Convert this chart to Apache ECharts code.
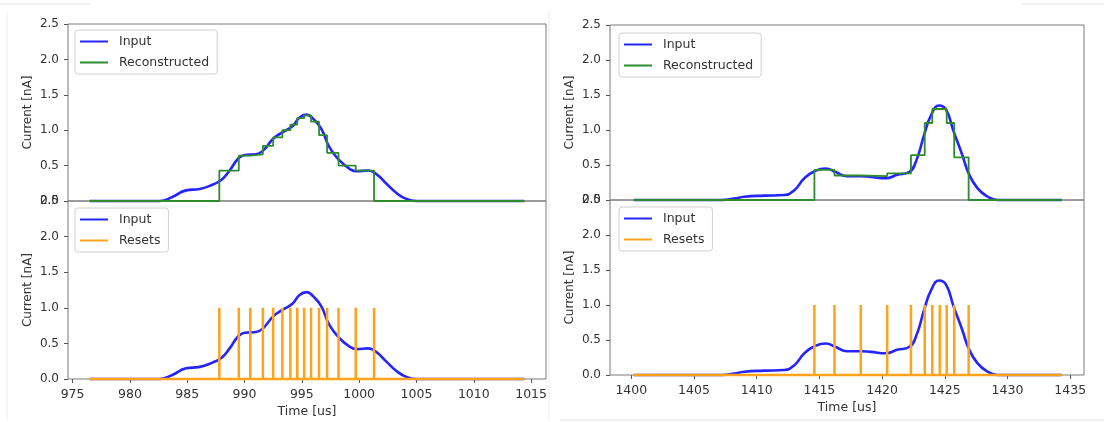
<!DOCTYPE html>
<html lang="en">
<head>
<meta charset="UTF-8">
<title>Input vs Reconstructed current</title>
<script src="https://cdn.jsdelivr.net/npm/echarts@6/dist/echarts.min.js"></script>
<style>
  html, body { margin: 0; padding: 0; background: #fff; }
  #chart { width: 1104px; height: 422px; }
</style>
</head>
<body>
<div id="chart"></div>
<script>
// left window (time in us, current in nA)
const leftInputT = [976.5, 980, 982.6, 983.7, 984.9, 986.1, 987.2, 988.0, 988.7, 989.4, 990.0, 991.0, 991.6, 992.5, 993.3, 994.2, 994.8, 995.4, 996.0, 996.7, 997.4, 998.3, 999.2, 999.8, 1000.8, 1001.5, 1002.4, 1003.2, 1004.1, 1005.0, 1010, 1014.4];
const leftInputV = [0, 0, 0, 0.056, 0.15, 0.17, 0.23, 0.30, 0.43, 0.59, 0.65, 0.66, 0.71, 0.88, 0.97, 1.06, 1.18, 1.22, 1.16, 1.02, 0.76, 0.57, 0.45, 0.42, 0.43, 0.38, 0.24, 0.12, 0.03, 0, 0, 0];
const leftResets = [987.8, 989.5, 990.5, 991.6, 992.5, 993.3, 994.0, 994.6, 995.2, 995.8, 996.5, 997.2, 998.2, 999.7, 1001.3];
const leftRecon = [0.43, 0.64, 0.66, 0.78, 0.90, 1.00, 1.08, 1.17, 1.21, 1.12, 0.93, 0.68, 0.50, 0.43, 0];

// right window
const rightInputT = [1400.2, 1405, 1407.2, 1408.2, 1409.0, 1410.6, 1412.2, 1413.0, 1413.8, 1414.6, 1415.5, 1416.3, 1417.2, 1418.3, 1419.1, 1420.3, 1421.2, 1422.15, 1422.7, 1423.35, 1423.9, 1424.55, 1425.1, 1425.7, 1426.4, 1426.9, 1427.6, 1428.4, 1429.2, 1434.3];
const rightInputV = [0, 0, 0, 0.02, 0.047, 0.062, 0.071, 0.14, 0.31, 0.41, 0.45, 0.40, 0.34, 0.34, 0.33, 0.31, 0.36, 0.40, 0.55, 0.93, 1.21, 1.35, 1.29, 0.98, 0.64, 0.38, 0.17, 0.05, 0, 0];
const rightResets = [1414.6, 1416.2, 1418.3, 1420.4, 1422.3, 1423.4, 1424.0, 1424.6, 1425.15, 1425.75, 1426.9];
const rightRecon = [0.43, 0.35, 0.34, 0.38, 0.64, 1.10, 1.30, 1.30, 1.10, 0.61, 0];

const leftXTicks = [975, 980, 985, 990, 995, 1000, 1005, 1010, 1015];
const rightXTicks = [1400, 1405, 1410, 1415, 1420, 1425, 1430, 1435];
const resetHeight = 1.0;

const BLUE = '#2424ff';
const GREEN = '#2e8b2e';
const ORANGE = '#ffa31a';
const FONT = 'DejaVu Sans';

function zip(t, v) {
    return t.map((x, i) => [x, v[i]]);
}

// piecewise constant reconstruction, value held until the next reset
function stepData(t, resets, recon) {
    const out = [[t[0], 0]];
    resets.forEach((r, i) => out.push([r, recon[i]]));
    out.push([t[t.length - 1], 0]);
    return out;
}

// zero signal with a spike up to resetHeight at every reset
function resetData(t, resets) {
    const out = [[t[0], 0]];
    resets.forEach(r => { out.push([r, 0], [r, resetHeight], [r, 0]); });
    out.push([t[t.length - 1], 0]);
    return out;
}

const grids = [
    { left: 68, top: 24, width: 478, height: 177 },
    { left: 68, top: 201, width: 478, height: 178 },
    { left: 610, top: 25, width: 474, height: 175 },
    { left: 610, top: 200, width: 474, height: 175 }
].map(g => Object.assign(g, { show: true, borderColor: '#7a7a7a', borderWidth: 1, backgroundColor: 'transparent' }));

function xAxis(idx, min, max, ticks, bottom) {
    return {
        type: 'value', gridIndex: idx, min: min, max: max,
        axisLine: { show: false },
        splitLine: { show: false },
        axisTick: { show: bottom, customValues: ticks, length: 4, lineStyle: { color: '#555' } },
        axisLabel: { show: bottom, customValues: ticks, margin: 9, color: '#333', fontSize: 12.5, fontFamily: FONT, formatter: v => String(v) },
        name: bottom ? 'Time [us]' : '',
        nameLocation: 'middle', nameGap: 26,
        nameTextStyle: { color: '#333', fontSize: 12.5, fontFamily: FONT }
    };
}

function yAxis(idx) {
    return {
        type: 'value', gridIndex: idx, min: 0, max: 2.5, interval: 0.5,
        axisLine: { show: false },
        splitLine: { show: false },
        axisTick: { show: true, length: 4, lineStyle: { color: '#555' } },
        axisLabel: { margin: 9, color: '#333', fontSize: 12, fontFamily: FONT, formatter: v => v.toFixed(1) },
        name: 'Current [nA]', nameLocation: 'middle', nameGap: 34, nameRotate: 90,
        nameTextStyle: { color: '#333', fontSize: 12, fontFamily: FONT }
    };
}

function legend(left, top, names) {
    return {
        orient: 'vertical', left: left, top: top,
        data: names,
        icon: 'rect', itemWidth: 28, itemHeight: 2, itemGap: 8,
        padding: [5, 8, 5, 5],
        backgroundColor: 'rgba(255,255,255,0.8)',
        borderColor: '#d0d0d0', borderWidth: 1, borderRadius: 3,
        textStyle: { color: '#333', fontSize: 12.5, fontFamily: FONT, padding: [0, 0, 0, 6] },
        selectedMode: false
    };
}

function line(name, idx, data, color, width, extra) {
    return Object.assign({
        type: 'line', name: name, xAxisIndex: idx, yAxisIndex: idx,
        data: data, showSymbol: false, symbol: 'none', clip: false,
        color: color, lineStyle: { color: color, width: width },
        animation: false
    }, extra || {});
}

const smooth = { smooth: 0.5 };

const option = {
    animation: false,
    grid: grids,
    xAxis: [
        xAxis(0, 974.6, 1016.3, leftXTicks, false),
        xAxis(1, 974.6, 1016.3, leftXTicks, true),
        xAxis(2, 1398.3, 1436.1, rightXTicks, false),
        xAxis(3, 1398.3, 1436.1, rightXTicks, true)
    ],
    yAxis: [yAxis(0), yAxis(1), yAxis(2), yAxis(3)],
    legend: [
        legend(75, 30, ['Input', 'Reconstructed']),
        legend(75, 208, ['Input', 'Resets']),
        legend(619, 33, ['Input', 'Reconstructed']),
        legend(619, 207, ['Input', 'Resets'])
    ],
    series: [
        line('Input', 0, zip(leftInputT, leftInputV), BLUE, 2.6, smooth),
        line('Reconstructed', 0, stepData(leftInputT, leftResets, leftRecon), GREEN, 1.8, { step: 'end' }),
        line('Input', 1, zip(leftInputT, leftInputV), BLUE, 2.6, smooth),
        line('Resets', 1, resetData(leftInputT, leftResets), ORANGE, 2.5),
        line('Input', 2, zip(rightInputT, rightInputV), BLUE, 2.6, smooth),
        line('Reconstructed', 2, stepData(rightInputT, rightResets, rightRecon), GREEN, 1.8, { step: 'end' }),
        line('Input', 3, zip(rightInputT, rightInputV), BLUE, 2.6, smooth),
        line('Resets', 3, resetData(rightInputT, rightResets), ORANGE, 2.5)
    ],
    // faint frame edges of the two pasted figures
    graphic: [
        { type: 'line', shape: { x1: 0, y1: 4, x2: 90, y2: 4 }, style: { stroke: '#e6e6e6', lineWidth: 1 } },
        { type: 'line', shape: { x1: 7, y1: 12, x2: 7, y2: 420 }, style: { stroke: '#ececec', lineWidth: 1 } },
        { type: 'line', shape: { x1: 549, y1: 10, x2: 549, y2: 420 }, style: { stroke: '#ececec', lineWidth: 1 } },
        { type: 'line', shape: { x1: 1022, y1: 4, x2: 1104, y2: 4 }, style: { stroke: '#e6e6e6', lineWidth: 1 } },
        { type: 'line', shape: { x1: 560, y1: 420, x2: 1104, y2: 420 }, style: { stroke: '#e6e6e6', lineWidth: 1 } }
    ]
};

const chart = echarts.init(document.getElementById('chart'));
chart.setOption(option);
window.addEventListener('resize', () => chart.resize());
</script>
</body>
</html>
